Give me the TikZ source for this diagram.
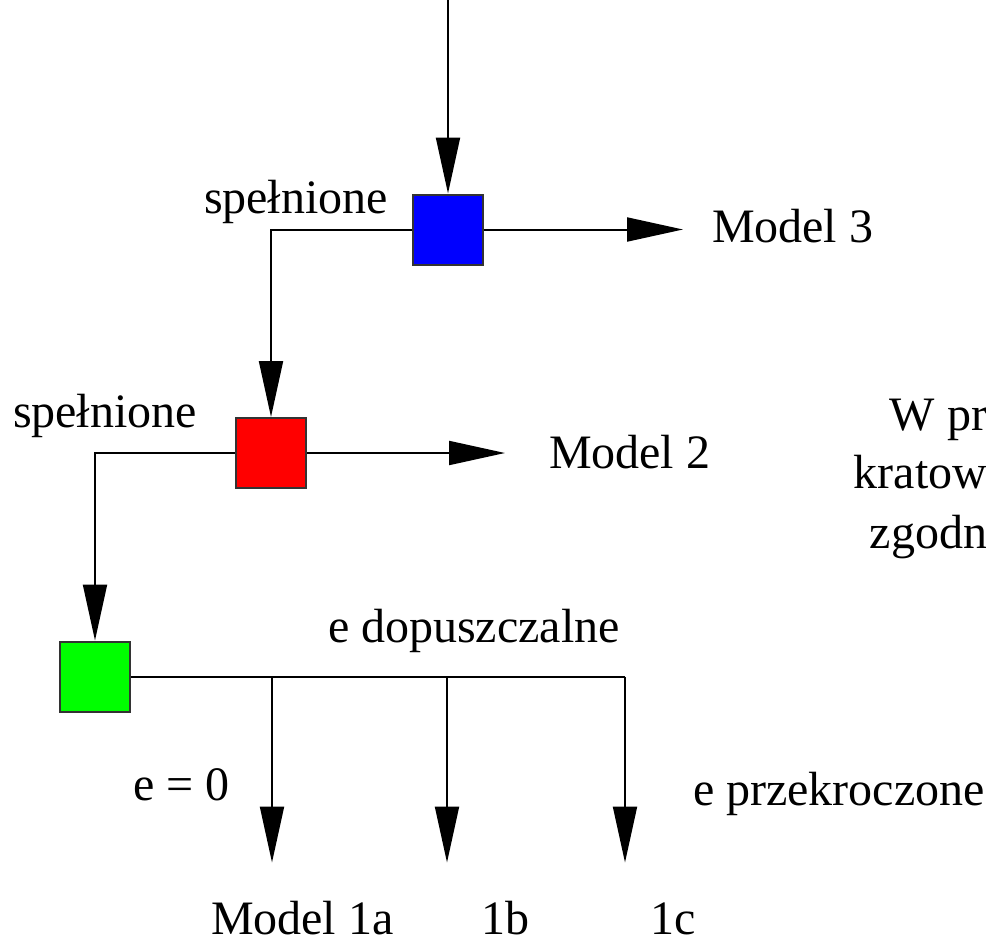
\documentclass[tikz,border=0pt]{standalone}
\usepackage{fontspec}
\setmainfont{Liberation Serif}
\usetikzlibrary{arrows.meta, positioning, calc}
\definecolor{cblue}{HTML}{0000FF}
\definecolor{cred}{HTML}{FF0000}
\definecolor{cgreen}{HTML}{00FF00}
\definecolor{cgrey}{HTML}{333333}
\tikzset{
  every picture/.style={font=\fontsize{48}{56}\selectfont, line width=2pt, x=1pt, y=-1pt},
  box/.style={draw=cgrey, fill=#1, minimum size=70pt, inner sep=0pt},
  box/.default=cblue,
  arrow/.style={-{Triangle[length=56pt, width=24pt]}, draw=black},
  line/.style={draw=black},
  label/.style={inner sep=0pt, anchor=base west},
}

\begin{document}
\begin{tikzpicture}
  \useasboundingbox (0,0) rectangle (986,945);
  % selection boxes
  \node[box=cblue] (m3) at (448,229.5) {};
  \node[box=cred] (m2) at (271,453) {};
  \node[box=cgreen] (m1) at (95,676.5) {};
  \coordinate (in) at (448,0);
  \coordinate (t3) at (683,229.5);
  \coordinate (t2) at (505,453);
  \coordinate (j1) at (272,676.5);
  \coordinate (j2) at (447,676.5);
  \coordinate (j3) at (625,676.5);
  \foreach \n in {1,2,3} {
    \coordinate (e\n) at ($(j\n)+(0,186)$);
  }
  \draw[arrow] (in) -- (m3.north);
  \draw[arrow] (m3.east) -- (t3);
  \draw[arrow] (m3.west) -| (m2.north);
  \draw[arrow] (m2.east) -- (t2);
  \draw[arrow] (m2.west) -| (m1.north);
  \draw[line] (m1.east) -- (j3);
  \foreach \n in {1,2,3} {
    \draw[arrow] (j\n) -- (e\n);
  }
  % texts
  \node[label] (s3) at (203,213) {spełnione};
  \node[label] (s2) at (12,427) {spełnione};
  \node[label] (l3) at (711,242) {Model 3};
  \node[label] (l2) at (548,468) {Model 2};
  \node[label] (ok) at (327,642) {e dopuszczalne};
  \node[label] (zero) at (132,800) {e = 0};
  \node[label] (over) at (692,805) {e przekroczone};
  \node[label] (l1a) at (210,934) {Model 1a};
  \node[label] (l1b) at (480,934) {1b};
  \node[label] (l1c) at (649,934) {1c};
  \node[label, anchor=base east] (w1) at (988,430) {W pr};
  \node[label, anchor=base east] (w2) at (988,488) {kratow};
  \node[label, anchor=base east] (w3) at (988,548) {zgodn};
\end{tikzpicture}
\end{document}
